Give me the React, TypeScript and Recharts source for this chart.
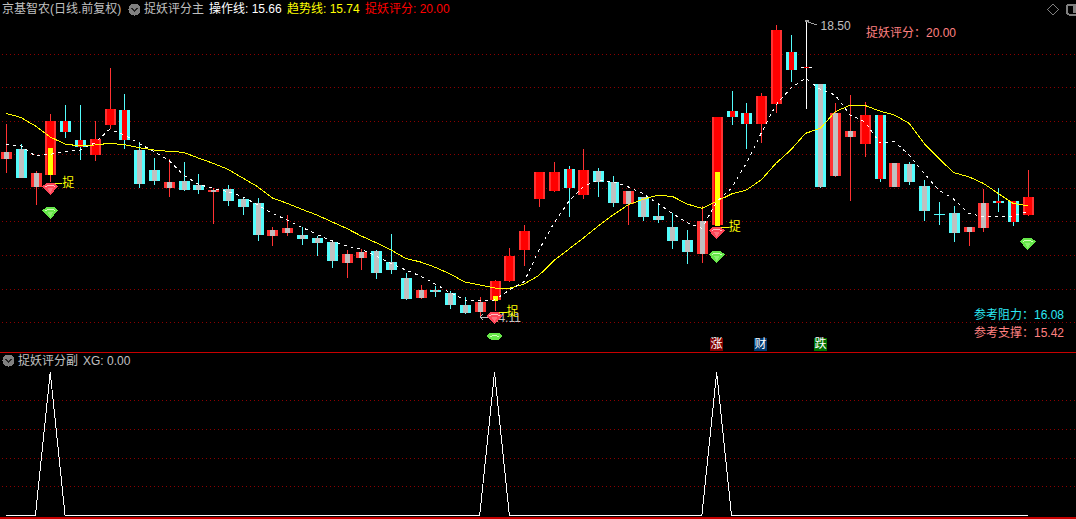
import React from 'react';
import { ComposedChart, Bar, Line, XAxis, YAxis, CartesianGrid, ReferenceDot } from 'recharts';

// the last three days are empty room to the right of the last candle
const days = [
  0, 1, 2, 3, 4, 5, 6, 7, 8, 9, 10, 11, 12, 13, 14, 15, 16, 17, 18, 19, 20, 21, 22, 23, 24, 25, 26, 27, 28, 29, 30, 31, 32, 33, 34,
  35, 36, 37, 38, 39, 40, 41, 42, 43, 44, 45, 46, 47, 48, 49, 50, 51, 52, 53, 54, 55, 56, 57, 58, 59, 60, 61, 62, 63, 64, 65, 66, 67, 68, 69,
  70, 71, 72,
];
const highs = [
  16.94, 16.64, 16.235, 17.09, 17.225, 17.225, 16.985, 17.78, 17.39, 16.67, 16.43, 16.415, 16.37, 16.19, 15.98, 16.025, 15.845, 15.83, 15.395, 15.575,
  15.395, 15.26, 15.185, 15.05, 15.065, 15.05, 15.29, 14.705, 14.525, 14.51, 14.435, 14.345, 14.345, 14.6, 15.08, 15.425, 16.22, 16.37, 16.31, 16.565,
  16.28, 16.16, 15.935, 15.845, 15.755, 15.605, 15.35, 15.71, 17.045, 17.435, 17.255, 17.405, 18.425, 18.275, 18.5, 17.54, 17.255, 17.375, 17.27, 17.075,
  16.355, 16.37, 16.1, 15.77, 15.71, 15.395, 15.965, 15.98, 15.785, 16.25,
];
const lows = [
  16.205, 16.13, 15.725, 16.07, 16.73, 16.4, 16.385, 16.865, 16.565, 15.98, 16.025, 15.845, 15.935, 15.89, 15.44, 15.71, 15.575, 15.185, 15.11, 15.26,
  15.125, 14.96, 14.78, 14.63, 14.75, 14.615, 14.69, 14.3, 14.315, 14.345, 14.165, 14.09, 14.03, 14.135, 14.57, 14.81, 15.695, 15.92, 15.545, 15.815,
  15.845, 15.695, 15.425, 15.485, 15.455, 15.065, 14.84, 14.855, 15.41, 16.925, 16.565, 16.655, 17.105, 17.57, 17.165, 15.98, 16.145, 15.785, 16.445, 16.07,
  15.995, 16.025, 15.485, 15.425, 15.17, 15.11, 15.32, 15.62, 15.41, 15.56,
];
const bodyTops = [
  16.52, 16.565, 16.205, 16.985, 16.985, 16.7, 16.715, 17.165, 17.15, 16.55, 16.25, 16.07, 16.085, 16.025, 15.95, 15.965, 15.815, 15.755, 15.35, 15.38,
  15.275, 15.23, 15.17, 14.99, 15.02, 15.035, 14.87, 14.63, 14.45, 14.45, 14.405, 14.225, 14.27, 14.585, 14.96, 15.335, 16.22, 16.22, 16.265, 16.25,
  16.235, 16.07, 15.935, 15.845, 15.56, 15.395, 15.2, 15.485, 17.045, 17.135, 17.105, 17.36, 18.35, 18.02, 17.795, 17.54, 17.105, 16.835, 17.075, 17.075,
  16.355, 16.34, 16.01, 15.59, 15.605, 15.395, 15.755, 15.785, 15.785, 15.845,
];
const bodyBottoms = [
  16.415, 16.13, 15.995, 16.175, 16.82, 16.595, 16.475, 16.925, 16.7, 16.04, 16.085, 15.98, 15.95, 15.95, 15.92, 15.785, 15.695, 15.275, 15.26, 15.305,
  15.215, 15.155, 14.885, 14.855, 14.93, 14.705, 14.75, 14.315, 14.33, 14.42, 14.225, 14.105, 14.12, 14.3, 14.585, 15.05, 15.815, 15.935, 15.98, 15.875,
  16.07, 15.755, 15.74, 15.545, 15.5, 15.185, 15.02, 14.99, 15.425, 17.045, 16.94, 16.94, 17.24, 17.75, 17.78, 15.995, 16.16, 16.745, 16.64, 16.115,
  15.995, 16.07, 15.635, 15.575, 15.305, 15.32, 15.38, 15.755, 15.47, 15.575,
];
// R full red, C cyan/gray, P red/gray, X cyan/red, W white doji, D cyan doji
const candleKinds = [
  'P', 'C', 'P', 'R', 'X', 'X', 'R', 'R', 'X', 'C', 'C', 'P', 'C', 'C', 'P', 'C', 'C', 'C', 'P', 'P',
  'C', 'C', 'C', 'P', 'P', 'C', 'C', 'C', 'P', 'C', 'C', 'C', 'P', 'R', 'R', 'R', 'R', 'R', 'X', 'R',
  'C', 'C', 'P', 'C', 'C', 'C', 'C', 'P', 'R', 'X', 'X', 'R', 'R', 'X', 'W', 'C', 'P', 'P', 'R', 'X',
  'P', 'C', 'C', 'D', 'C', 'P', 'P', 'X', 'X', 'R',
];
const trendLine = [
  17.1, 17.04, 16.91, 16.745, 16.64, 16.61, 16.625, 16.65, 16.63, 16.585, 16.55, 16.53, 16.515, 16.43, 16.35, 16.26, 16.13, 16.0, 15.83, 15.75,
  15.66, 15.575, 15.475, 15.375, 15.26, 15.16, 15.05, 14.925, 14.87, 14.79, 14.69, 14.57, 14.525, 14.48, 14.475, 14.54, 14.67, 14.89, 15.06, 15.23,
  15.41, 15.575, 15.725, 15.81, 15.87, 15.855, 15.74, 15.675, 15.78, 15.89, 15.95, 16.1, 16.35, 16.55, 16.8, 16.875, 17.125, 17.22, 17.22, 17.135,
  17.075, 16.95, 16.65, 16.425, 16.21, 16.15, 16.05, 15.9, 15.75, 15.715,
];
const operateLine = [
  16.635, 16.615, 16.46, 16.485, 16.525, 16.55, 16.655, 16.86, 16.775, 16.65, 16.525, 16.4, 16.175, 16.035, 15.975, 15.925, 15.85, 15.725, 15.6, 15.5,
  15.39, 15.285, 15.19, 15.11, 15.06, 14.96, 14.85, 14.75, 14.66, 14.54, 14.41, 14.3, 14.29, 14.3, 14.45, 14.575, 15.05, 15.45, 15.775, 16.0,
  16.1, 16.075, 16.0, 15.9, 15.75, 15.6, 15.46, 15.375, 15.775, 15.975, 16.35, 16.8, 17.225, 17.475, 17.625, 17.46, 17.375, 17.075, 16.975, 16.66,
  16.675, 16.475, 16.2, 15.95, 15.815, 15.6, 15.55, 15.55, 15.56, 15.625,
];
const signalDays = [3, 33, 48];
const signalTops = [16.58, 14.36, 16.22];
const signalBottoms = [16.175, 14.285, 15.41];
const redGemPrices = [15.965, 14.03, 15.305];
const greenGemDays = [3, 33, 48, 69];
const greenGemPrices = [15.605, 13.76, 14.945, 15.14];
const xgValues = [
  0, 0, 0, 1, 0, 0, 0, 0, 0, 0, 0, 0, 0, 0, 0, 0, 0, 0, 0, 0, 0, 0, 0, 0, 0, 0, 0, 0, 0, 0, 0, 0, 0, 1, 0,
  0, 0, 0, 0, 0, 0, 0, 0, 0, 0, 0, 0, 0, 1, 0, 0, 0, 0, 0, 0, 0, 0, 0, 0, 0, 0, 0, 0, 0, 0, 0, 0, 0, 0, 0,
];
const priceGrid = [17.98, 17.49, 16.985, 16.49, 15.98, 15.478, 14.97, 14.46, 13.96];
const xgGrid = [0.2, 0.4, 0.6, 0.8];

const mainData = days.map((day, i) => {
  const sig = signalDays.indexOf(day);
  const green = greenGemDays.indexOf(day);
  return {
    day,
    high: highs[i] ?? null,
    low: lows[i] ?? null,
    top: bodyTops[i] ?? null,
    bottom: bodyBottoms[i] ?? null,
    kind: candleKinds[i],
    trend: trendLine[i] ?? null,
    operate: operateLine[i] ?? null,
    sigTop: sig >= 0 ? signalTops[sig] : null,
    sigBottom: sig >= 0 ? signalBottoms[sig] : null,
    redGem: sig >= 0 ? redGemPrices[sig] : null,
    greenGem: green >= 0 ? greenGemPrices[green] : null,
  };
});
const subData = days.map((day, i) => ({ day, xg: xgValues[i] ?? null }));

const RED = '#ff3232';
const PURE_RED = '#ff0000';
const CYAN = '#54fcfc';
const GRAY = '#c0c0c0';
const YELLOW = '#ffff00';
const GRID = '#8c0000';
const FONT = "'Liberation Sans','Noto Sans CJK SC',sans-serif";
const PLOT_MARGIN = { top: 0, right: -3.53, bottom: 0, left: -1.6 };

const Candle = (props: any) => {
  const { x, y, width, height, payload: d } = props;
  if (d.high == null) return null;
  const cx = Math.round(x + width / 2);
  const toY = (p: number) => y + ((d.high - p) / (d.high - d.low)) * height;
  const top = Math.round(toY(d.top));
  const h = Math.max(1, Math.round(toY(d.bottom)) - top);
  const cyanSide = d.kind === 'C' || d.kind === 'X' || d.kind === 'D';
  const outer = d.kind === 'W' ? '#ffffff' : cyanSide ? CYAN : RED;
  const wick = d.kind === 'W' ? '#ffffff' : cyanSide ? CYAN : RED;
  const inner = d.kind === 'C' || d.kind === 'P' ? GRAY : PURE_RED;
  const innerW = d.kind === 'R' ? 7 : 5;
  return (
    <g>
      <rect x={cx} y={y} width={1} height={height} fill={wick} />
      <rect x={cx - 5} y={top} width={11} height={h} fill={outer} />
      {d.kind !== 'D' && (
        <rect x={cx - (innerW - 1) / 2} y={top} width={innerW} height={h} fill={inner} />
      )}
      {d.sigTop != null && (
        <rect x={cx - 2} y={toY(d.sigTop)} width={5} height={toY(d.sigBottom) - toY(d.sigTop)} fill={YELLOW} />
      )}
    </g>
  );
};

const Gem = ({ cx, cy, body, light }: any) => {
  const pts = [[-4, -6], [4, -6], [8, -2.5], [0, 6], [-8, -2.5]].map(([a, b]) => `${cx + a},${cy + b}`).join(' ');
  const arc = [[-5, -2], [-2, -4], [2, -4], [5, -2]].map(([a, b]) => `${cx + a},${cy + b}`).join(' ');
  return (
    <g>
      <polygon points={pts} fill={body} />
      <polyline points={arc} fill="none" stroke={light} strokeWidth={1} />
      <polygon points={`${cx - 3},${cy - 1} ${cx + 3},${cy - 1} ${cx},${cy + 4}`} fill={light} opacity={0.35} />
    </g>
  );
};

// squeezed against the panel edge, the low green gem loses its tip
const FlatGem = ({ cx, cy, body, light }: any) => {
  const pts = [[-8, 0], [-4, -3.5], [4, -3.5], [8, 0], [4, 3.5], [-4, 3.5]].map(([a, b]) => `${cx + a},${cy + b}`).join(' ');
  return (
    <g>
      <polygon points={pts} fill={body} />
      <polyline points={`${cx - 4},${cy + 1} ${cx - 1},${cy - 1} ${cx + 1},${cy - 1} ${cx + 4},${cy + 1}`} fill="none" stroke={light} />
    </g>
  );
};

const RedGemDot = (props: any) => {
  const { cx, cy, value, index } = props;
  if (value == null) return <g key={index} />;
  return (
    <g key={index}>
      <polyline points={`${cx},${cy - 4} ${cx},${cy - 6} ${cx + 12},${cy - 6}`} fill="none" stroke={YELLOW} />
      <text x={cx + 12} y={cy - 2} fontSize={12} fontFamily={FONT} fill={YELLOW}>捉</text>
      <Gem cx={cx} cy={cy} body="#ff4658" light="#ffc0c0" />
    </g>
  );
};

const GreenGemDot = (props: any) => {
  const { cx, cy, value, index, payload } = props;
  if (value == null) return <g key={index} />;
  const Shape = payload.day === 33 ? FlatGem : Gem;
  return <g key={index}><Shape cx={cx} cy={cy} body="#66e64a" light="#d0ffb8" /></g>;
};

const HighMark = ({ cx, cy }: any) => (
  <g>
    <polyline points={`${cx + 3},${cy} ${cx},${cy + 1} ${cx + 3},${cy + 2} ${cx + 11},${cy + 5}`} fill="none" stroke="#a0a0a0" />
    <text x={cx + 15} y={cy + 10} fontSize={12} fontFamily={FONT} fill={GRAY}>18.50</text>
  </g>
);

const LowMark = ({ cx, cy }: any) => (
  <g>
    <polyline points={`${cx + 3},${cy - 3} ${cx},${cy} ${cx + 3},${cy + 3}`} fill="none" stroke={GRAY} />
    <line x1={cx} y1={cy} x2={cx + 10} y2={cy} stroke={GRAY} />
    <text x={cx + 12} y={cy + 5} fontSize={12} fontFamily={FONT} fill={GRAY}>14.11</text>
  </g>
);

const Label = ({ x, y, color, children }: any) => (
  <div style={{ position: 'absolute', left: x, top: y, color, font: `12px/14px ${FONT}`, whiteSpace: 'pre' }}>{children}</div>
);

const Badge = ({ x, bg, children }: any) => (
  <div style={{ position: 'absolute', left: x, top: 338, width: 13, height: 13, background: bg, color: '#fff', font: `12px/13px ${FONT}`, textAlign: 'center' }}>
    {children}
  </div>
);

const Chevron = ({ x, y }: any) => (
  <svg style={{ position: 'absolute', left: x, top: y }} width={13} height={13}>
    <circle cx={6.5} cy={6.5} r={6} fill="#808080" />
    <polyline points="3.5,5 6.5,8 9.5,5" fill="none" stroke="#222" strokeWidth={1.5} />
  </svg>
);

const App: React.FC = () => {
  return (
    <div style={{ position: 'relative', width: 1076, height: 519, background: '#000', overflow: 'hidden', shapeRendering: 'crispEdges' }}>
      <style>{'body{margin:0;background:#000}'}</style>

      <div style={{ position: 'absolute', left: 0, top: 0 }}>
        <ComposedChart width={1076} height={352} data={mainData} margin={PLOT_MARGIN}>
          <CartesianGrid vertical={false} horizontalValues={priceGrid} stroke={GRID} strokeDasharray="1 3" />
          <XAxis dataKey="day" scale="band" hide />
          <YAxis hide domain={[13.52, 18.8]} allowDataOverflow />
          <Line dataKey="trend" stroke={YELLOW} strokeWidth={1} dot={false} activeDot={false} isAnimationActive={false} />
          <Line dataKey="operate" stroke="#ffffff" strokeWidth={1} strokeDasharray="3 4" dot={false} activeDot={false} isAnimationActive={false} />
          <ReferenceDot x={32} y={14.045} shape={LowMark} />
          <Bar dataKey={(d: any) => (d.high == null ? null : [d.low, d.high])} barSize={11} shape={Candle} isAnimationActive={false} />
          <Line dataKey="redGem" stroke="none" dot={RedGemDot} activeDot={false} isAnimationActive={false} />
          <Line dataKey="greenGem" stroke="none" dot={GreenGemDot} activeDot={false} isAnimationActive={false} />
          <ReferenceDot x={54} y={18.5} shape={HighMark} />
        </ComposedChart>
      </div>

      <div style={{ position: 'absolute', left: 0, top: 353 }}>
        <ComposedChart width={1076} height={166} data={subData} margin={PLOT_MARGIN}>
          <CartesianGrid vertical={false} horizontalValues={xgGrid} stroke={GRID} strokeDasharray="1 3" />
          <XAxis dataKey="day" scale="band" hide />
          <YAxis hide domain={[-0.026, 1.135]} allowDataOverflow />
          <Line dataKey="xg" type="linear" stroke="#ffffff" strokeWidth={1} dot={false} activeDot={false} isAnimationActive={false} />
        </ComposedChart>
      </div>

      <div style={{ position: 'absolute', left: 0, top: 352, width: 1076, height: 1, background: '#c80000' }} />
      <div style={{ position: 'absolute', left: 0, top: 517, width: 1076, height: 2, background: '#c80000' }} />

      <Label x={2} y={2} color={GRAY}>京基智农(日线.前复权)</Label>
      <Chevron x={128} y={3} />
      <Label x={144} y={2} color={GRAY}>捉妖评分主</Label>
      <Label x={209} y={2} color="#ffffff">操作线: 15.66</Label>
      <Label x={287} y={2} color={YELLOW}>趋势线: 15.74</Label>
      <Label x={365} y={2} color={PURE_RED}>捉妖评分: 20.00</Label>

      <svg style={{ position: 'absolute', left: 1040, top: 0 }} width={36} height={20}>
        <polygon points="13,4 18.5,9.5 13,15 7.5,9.5" fill="none" stroke="#808080" />
        <rect x={27} y={4.5} width={12} height={10} rx={2} fill="none" stroke="#808080" strokeWidth={2} />
        <rect x={33} y={6} width={5} height={7} fill="#808080" />
      </svg>

      <Label x={866} y={26} color="#ff8080">捉妖评分：20.00</Label>
      <Label x={974} y={308} color="#2ce8f5">参考阻力：16.08</Label>
      <Label x={974} y={326} color="#ff8080">参考支撑：15.42</Label>

      <Badge x={710} bg="#800000">涨</Badge>
      <Badge x={754} bg="#003a70">财</Badge>
      <Badge x={814} bg="#007000">跌</Badge>

      <Chevron x={2} y={354} />
      <Label x={18} y={354} color={GRAY}>捉妖评分副</Label>
      <Label x={83} y={354} color={GRAY}>XG: 0.00</Label>
    </div>
  );
};

export default App;
